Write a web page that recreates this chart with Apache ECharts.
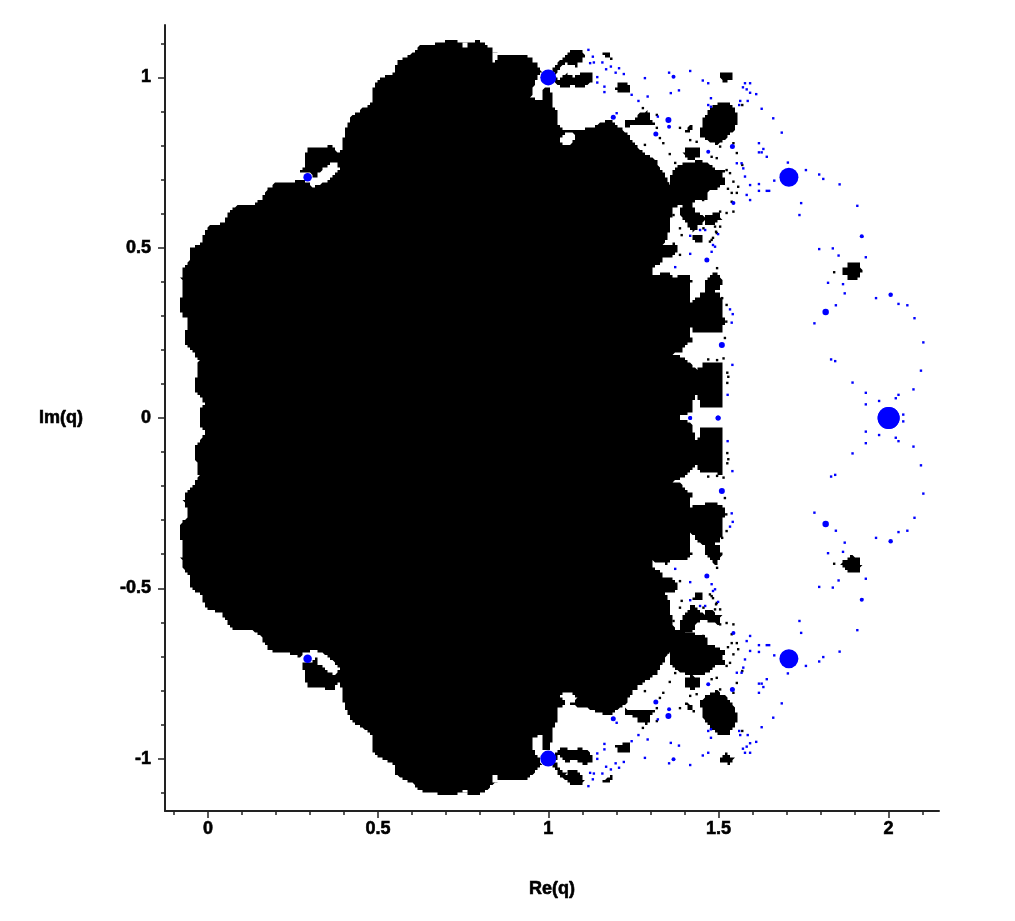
<!DOCTYPE html>
<html><head><meta charset="utf-8">
<script src="https://cdn.jsdelivr.net/npm/echarts@6/dist/echarts.min.js"></script>
<style>html,body{margin:0;background:#fff}#c{width:1015px;height:921px}</style></head>
<body><div id="c"></div>
<script>
// All values, in (Re(q), Im(q)); the set is symmetric about Im(q)=0, so upper half is listed.
const xMajor=[0,0.5,1,1.5,2];
const xMinor=[-0.1,0.1,0.2,0.3,0.4,0.6,0.7,0.8,0.9,1.1,1.2,1.3,1.4,1.6,1.7,1.8,1.9,2.1];
const yMajor=[-1,-0.5,0,0.5,1];
const yMinor=[-1.1,-0.9,-0.8,-0.7,-0.6,-0.4,-0.3,-0.2,-0.1,0.1,0.2,0.3,0.4,0.6,0.7,0.8,0.9,1.1];
const mainBody=[[-0.026,0],[-0.022,0.028],[-0.009,0.038],[-0.019,0.058],[-0.038,0.087],[-0.035,0.121],[-0.026,0.170],[-0.043,0.195],[-0.068,0.224],[-0.071,0.239],[-0.058,0.278],[-0.063,0.293],[-0.077,0.308],[-0.084,0.342],[-0.073,0.366],[-0.079,0.410],[-0.071,0.440],[-0.055,0.464],[-0.051,0.498],[-0.019,0.518],[-0.009,0.547],[0.006,0.564],[0.043,0.572],[0.060,0.606],[0.084,0.623],[0.133,0.626],[0.153,0.640],[0.173,0.670],[0.197,0.689],[0.236,0.689],[0.270,0.702],[0.309,0.679],[0.339,0.689],[0.368,0.714],[0.393,0.738],[0.388,0.763],[0.393,0.797],[0.403,0.846],[0.422,0.890],[0.456,0.910],[0.481,0.929],[0.484,0.968],[0.500,0.995],[0.535,1.008],[0.550,1.027],[0.556,1.051],[0.603,1.071],[0.623,1.095],[0.672,1.100],[0.701,1.110],[0.726,1.110],[0.741,1.100],[0.794,1.108],[0.824,1.090],[0.838,1.076],[0.858,1.066],[0.937,1.066],[0.957,1.047],[0.981,1.017],[0.966,0.993],[0.955,0.972],[0.949,0.940],[0.981,0.931],[0.987,0.972],[1.008,0.972],[1.011,0.919],[1.029,0.890],[1.026,0.861],[1.043,0.846],[1.079,0.846],[1.117,0.852],[1.152,0.866],[1.181,0.875],[1.205,0.855],[1.226,0.840],[1.240,0.817],[1.270,0.787],[1.293,0.772],[1.314,0.758],[1.328,0.737],[1.346,0.705],[1.355,0.687],[1.358,0.705],[1.364,0.728],[1.381,0.743],[1.408,0.752],[1.446,0.755],[1.475,0.746],[1.490,0.728],[1.522,0.723],[1.511,0.709],[1.522,0.690],[1.502,0.675],[1.470,0.664],[1.467,0.643],[1.440,0.637],[1.417,0.629],[1.393,0.626],[1.370,0.617],[1.364,0.605],[1.358,0.561],[1.352,0.529],[1.337,0.508],[1.373,0.514],[1.381,0.493],[1.364,0.470],[1.337,0.470],[1.337,0.455],[1.305,0.441],[1.308,0.420],[1.349,0.429],[1.367,0.414],[1.402,0.420],[1.425,0.405],[1.414,0.391],[1.417,0.361],[1.417,0.338],[1.431,0.347],[1.446,0.367],[1.475,0.379],[1.496,0.367],[1.511,0.352],[1.511,0.308],[1.519,0.279],[1.511,0.253],[1.475,0.250],[1.446,0.253],[1.425,0.253],[1.422,0.273],[1.417,0.244],[1.425,0.229],[1.396,0.206],[1.393,0.194],[1.367,0.188],[1.393,0.176],[1.422,0.156],[1.437,0.141],[1.455,0.162],[1.511,0.164],[1.514,0.112],[1.514,0.029],[1.461,0.029],[1.446,0.029],[1.446,0.038],[1.437,0.073],[1.425,0.038],[1.425,0.018],[1.402,0.009],[1.373,0]];
const bulbLeft=[[0.295,0.792],[0.339,0.795],[0.364,0.802],[0.378,0.782],[0.403,0.772],[0.403,0.743],[0.388,0.738],[0.373,0.753],[0.349,0.738],[0.329,0.723],[0.319,0.704],[0.300,0.719],[0.270,0.723],[0.280,0.738],[0.290,0.743],[0.282,0.767]];
const bulbG=[[1.049,1.061],[1.064,1.079],[1.093,1.081],[1.108,1.066],[1.098,1.047],[1.084,1.032],[1.064,1.037],[1.054,1.047]];
const stemG=[[1.014,1.027],[1.032,1.051],[1.050,1.060],[1.054,1.041],[1.035,1.030],[1.020,1.008]];
const bulbH=[[1.020,1.002],[1.030,0.993],[1.054,1.012],[1.074,1.002],[1.103,1.017],[1.128,1.012],[1.132,0.993],[1.118,0.978],[1.098,0.968],[1.074,0.978],[1.049,0.968],[1.020,0.983]];
const bulbI=[[1.196,0.963],[1.206,0.983],[1.231,0.985],[1.242,0.968],[1.240,0.954],[1.211,0.958]];
const bulbJ=[[1.152,1.073],[1.176,1.073],[1.190,1.050],[1.170,1.060]];
const bulbK=[[1.446,0.841],[1.458,0.885],[1.475,0.914],[1.500,0.929],[1.529,0.929],[1.549,0.900],[1.558,0.875],[1.544,0.841],[1.519,0.816],[1.495,0.802],[1.470,0.816],[1.451,0.826]];
const bulbL=[[1.505,1.012],[1.529,1.017],[1.549,0.998],[1.524,0.985],[1.505,0.998]];
const bulbM=[[1.396,0.779],[1.405,0.793],[1.422,0.797],[1.440,0.793],[1.449,0.779],[1.443,0.764],[1.425,0.758],[1.405,0.764]];
const bulbN=[[1.402,0.846],[1.417,0.861],[1.431,0.864],[1.425,0.846],[1.408,0.837]];
const bulbO=[[1.270,0.896],[1.293,0.902],[1.299,0.875],[1.314,0.858],[1.284,0.860],[1.249,0.860],[1.226,0.852],[1.226,0.873],[1.246,0.873]];
const bulbB=[[1.387,0.621],[1.417,0.631],[1.436,0.601],[1.461,0.591],[1.456,0.572],[1.426,0.547],[1.407,0.572],[1.387,0.596]];
const bulbB2=[[1.461,0.596],[1.499,0.605],[1.511,0.581],[1.481,0.567],[1.461,0.567]];
const bulbP=[[1.425,0.537],[1.455,0.537],[1.450,0.515],[1.430,0.515]];
const bulbQ=[[1.490,0.429],[1.511,0.405],[1.505,0.376],[1.461,0.376],[1.461,0.405]];
const bulbR=[[1.857,0.430],[1.882,0.454],[1.911,0.454],[1.921,0.435],[1.916,0.410],[1.892,0.405],[1.872,0.420]];
const holeA=[[1.034,0.822],[1.052,0.841],[1.076,0.834],[1.084,0.820],[1.064,0.805],[1.043,0.805]];
const holeB=[[0.746,1.090],[0.764,1.090],[0.764,1.100],[0.746,1.100]];
const holeC=[[0.835,1.072],[0.858,1.072],[0.850,1.050],[0.840,1.045]];
const blackShapes=[mainBody,bulbLeft,bulbG,stemG,bulbH,bulbI,bulbJ,bulbK,bulbL,bulbM,bulbN,bulbO,bulbB,bulbB2,bulbP,bulbQ,bulbR];
const whiteShapes=[holeA,holeB,holeC];
const blueBig=[[2,0,22],[1.707,0.707,19],[1,1,16],[0.293,0.707,8.5],[1.815,0.311,6.5],[2.006,0.362,4.5],[1.921,0.534,4],[1.353,0.875,6],[1.355,0.855,4],[1.316,0.834,5],[1.191,0.883,5],[1.541,0.797,5],[1.470,0.782,4],[1.544,0.631,4],[1.466,0.464,5],[1.510,0.214,6],[1.499,0,5],[1.417,0,4],[1.368,1.002,4]];
const blueSmall=[[1.796,0.496],[1.836,0.498],[1.853,0.477],[1.933,0.472],[1.822,0.397],[1.866,0.393],[1.871,0.366],[1.963,0.352],[2.029,0.335],[2.055,0.331],[2.076,0.293],[2.102,0.222],[2.095,0.139],[2.073,0.084],[2.029,0.068],[2.021,0.058],[1.972,0.050],[1.933,0.074],[1.933,0.040],[1.894,0.104],[1.831,0.172],[1.843,0.167],[1.845,0.331],[1.782,0.278],[2.043,0.010],[1.704,0.750],[1.757,0.728],[1.796,0.715],[1.808,0.702],[1.856,0.686],[1.908,0.623],[1.922,0.532],[1.743,0.631],[1.738,0.596],[1.664,0.697],[1.649,0.667],[1.642,0.667],[1.619,0.667],[1.619,0.687],[1.642,0.767],[1.632,0.790],[1.627,0.780],[1.619,0.780],[1.619,0.807],[1.686,0.838],[1.661,0.880],[1.627,0.908],[1.611,0.951],[1.593,0.955],[1.593,0.983],[1.578,0.983],[1.583,0.965],[1.572,0.971],[1.586,0.931],[1.564,0.931],[1.561,0.919],[1.454,0.991],[1.470,0.983],[1.417,1.019],[1.355,1.014],[1.284,0.998],[1.222,1.010],[1.198,1.014],[1.184,1.032],[1.208,1.027],[1.170,1.024],[1.159,1.044],[1.131,1.061],[1.134,1.044],[1.123,1.042],[1.118,1.081],[1.144,1.001],[1.144,0.985],[1.165,0.973],[1.165,0.957],[1.384,0.962],[1.360,0.954],[1.292,0.944],[1.265,0.931],[1.245,0.949],[1.478,0.939],[1.478,0.914],[1.470,0.919],[1.322,0.885],[1.201,0.895],[1.373,0.443],[1.490,0.503],[1.480,0.488],[1.417,0.482],[1.484,0.508],[1.417,0.535],[1.446,0.552],[1.461,0.552],[1.499,0.540],[1.593,0.684],[1.578,0.709],[1.593,0.640],[1.583,0.655],[1.554,0.748],[1.573,0.733],[1.568,0.748],[1.542,0.305],[1.539,0.280],[1.541,0.156],[1.534,0.319],[1.527,0.068]];
const blackDots=[[1.840,0.428],[1.524,0.332],[1.529,0.121],[1.519,0.235],[1.526,0.103],[1.526,0.133],[1.570,0.919],[1.544,0.807],[1.554,0.778],[1.570,0.743],[1.544,0.694],[1.558,0.679],[1.554,0.661],[1.534,0.719],[1.524,0.728],[1.480,0.767],[1.495,0.763],[1.505,0.797],[1.387,0.852],[1.436,0.811],[1.417,0.816],[1.338,0.807],[1.328,0.822],[1.278,0.910],[1.319,0.890],[1.284,0.802],[1.357,0.775],[1.373,0.749],[1.319,0.852],[1.495,0.543],[1.475,0.518],[1.484,0.529],[1.544,0.606],[1.524,0.602],[1.505,0.606],[1.539,0.635],[1.539,0.661],[1.528,0.673],[1.352,0.689],[1.352,0.675],[1.368,0.596],[1.387,0.557],[1.392,0.537],[1.387,0.479],[1.455,0.640],[1.490,0.562],[1.505,0.562],[1.480,0.523],[1.493,0.547],[1.456,0.557],[1.496,0.440],[1.511,0.352],[1.523,0.283],[1.515,0.175],[1.496,0.170],[1.470,0.172],[1.411,0.361],[1.396,0.382]];

const withConjugate=pts=>pts.concat(pts.map(p=>[p[0],-p[1],p[2]]));
const mirrorPoly=pts=>pts.map(p=>[p[0],-p[1]]);
const polys=[];
polys.push({pts:mainBody.concat(mirrorPoly(mainBody).reverse()),fill:'#000'});
blackShapes.slice(1).forEach(s=>{polys.push({pts:s,fill:'#000'});polys.push({pts:mirrorPoly(s),fill:'#000'});});
whiteShapes.forEach(s=>{polys.push({pts:s,fill:'#fff'});polys.push({pts:mirrorPoly(s),fill:'#fff'});});

// Outline is drawn on the reference's coarse raster, so edges come out as stairs.
const CELL=2.5;
const snap=v=>Math.round(v/CELL)*CELL;
function stairs(pix){
  const out=[];
  pix.forEach((a,i)=>{const b=pix[(i+1)%pix.length];
    const n=Math.max(1,Math.ceil(Math.hypot(b[0]-a[0],b[1]-a[1])/CELL));
    let prev=null;
    for(let k=0;k<n;k++){const x=snap(a[0]+(b[0]-a[0])*k/n),y=snap(a[1]+(b[1]-a[1])*k/n);
      if(prev&&prev[0]!==x&&prev[1]!==y)out.push([x,prev[1]]);
      out.push([x,y]);prev=[x,y];}
  });
  return out;
}

const labelFont={fontFamily:'"Liberation Sans",Arial,sans-serif',fontWeight:'bold',fontSize:18,color:'#000',textBorderColor:'#000',textBorderWidth:0.6};
const spine={show:true,onZero:false,lineStyle:{color:'#222',width:2}};
const noSpine={show:false,onZero:false};
const chart=echarts.init(document.getElementById('c'),null,{renderer:'canvas'});
chart.setOption({
 animation:false,backgroundColor:'#fff',
 grid:{left:165,right:76,top:25,bottom:110,containLabel:false},
 xAxis:[
  {type:'value',min:-0.126,max:2.148,position:'bottom',axisLine:spine,splitLine:{show:false},
   axisTick:{show:true,length:7,customValues:xMajor,lineStyle:{color:'#222',width:1.5}},
   axisLabel:{show:true,customValues:xMajor,margin:9,...labelFont,formatter:v=>String(v)},
   name:'Re(q)',nameLocation:'middle',nameGap:69,nameTextStyle:labelFont},
  {type:'value',min:-0.126,max:2.148,position:'bottom',axisLine:noSpine,splitLine:{show:false},
   axisTick:{show:true,length:4,customValues:xMinor,lineStyle:{color:'#222',width:1.5}},axisLabel:{show:false}}
 ],
 yAxis:[
  {type:'value',min:-1.154,max:1.154,position:'left',axisLine:spine,splitLine:{show:false},
   axisTick:{show:true,length:7,customValues:yMajor,lineStyle:{color:'#222',width:1.5}},
   axisLabel:{show:true,customValues:yMajor,margin:14,...labelFont,formatter:v=>String(v)},
   name:'Im(q)',nameLocation:'middle',nameRotate:0,nameGap:82,nameTextStyle:labelFont},
  {type:'value',min:-1.154,max:1.154,position:'left',axisLine:noSpine,splitLine:{show:false},
   axisTick:{show:true,length:4,customValues:yMinor,lineStyle:{color:'#222',width:1.5}},axisLabel:{show:false}}
 ],
 series:[
  {type:'custom',coordinateSystem:'cartesian2d',silent:true,clip:true,z:2,
   data:polys.map((p,i)=>[p.pts[0][0],p.pts[0][1],i]),encode:{x:0,y:1},
   renderItem:(params,api)=>{const p=polys[api.value(2)];
    return {type:'polygon',shape:{points:stairs(p.pts.map(q=>api.coord(q)))},style:{fill:p.fill,stroke:null}};}},
  {type:'scatter',silent:true,z:3,symbol:'rect',itemStyle:{color:'#000',opacity:1},symbolSize:2.4,data:withConjugate(blackDots)},
  {type:'scatter',silent:true,z:4,symbol:'rect',itemStyle:{color:'#0000ff',opacity:1},symbolSize:2.4,data:withConjugate(blueSmall)},
  {type:'scatter',silent:true,z:5,symbol:'circle',itemStyle:{color:'#0000ff',opacity:1},symbolSize:d=>d[2],data:withConjugate(blueBig)}
 ]
});
</script></body></html>
